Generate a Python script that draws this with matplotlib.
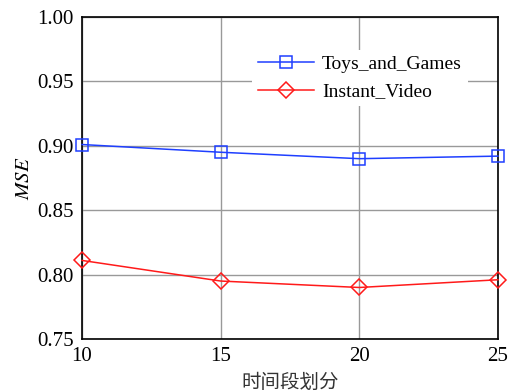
import matplotlib.pyplot as plt

# === Data ===
periods = [10, 15, 20, 25]
toys_mse = [0.901, 0.895, 0.890, 0.892]
video_mse = [0.811, 0.795, 0.790, 0.796]

plt.rcParams['font.family'] = ['Liberation Serif', 'Noto Sans CJK SC']
plt.rcParams['mathtext.fontset'] = 'stix'

fig = plt.figure(figsize=(5.11, 3.92), dpi=100)
ax = fig.add_axes([0.1605, 0.1352, 0.814, 0.8214])

ax.plot(periods, toys_mse, color='#1f3fff', marker='s', markersize=9,
        markerfacecolor='none', markeredgewidth=1.1, linewidth=1.1,
        label='Toys_and_Games', clip_on=False, zorder=3)
ax.plot(periods, video_mse, color='#ff1a1a', marker='D', markersize=8,
        markerfacecolor='none', markeredgewidth=1.1, linewidth=1.1,
        label='Instant_Video', clip_on=False, zorder=3)

ax.set_xlim(10, 25)
ax.set_ylim(0.75, 1.00)
ax.set_xticks(periods)
ax.set_yticks([0.75, 0.80, 0.85, 0.90, 0.95, 1.00])
ax.set_yticklabels(['0.75', '0.80', '0.85', '0.90', '0.95', '1.00'])
ax.tick_params(axis='both', direction='in', length=0, labelsize=15)
ax.tick_params(axis='y', pad=6)
ax.tick_params(axis='x', pad=6)
ax.grid(True, color='#999999', linewidth=1.0)
for s in ax.spines.values():
    s.set_linewidth(1.2)

ax.set_ylabel('$MSE$', fontsize=15, labelpad=2)
ax.set_xlabel('时间段划分', fontsize=14, labelpad=4,
              family=['Noto Sans CJK SC', 'DejaVu Sans'], color='#333333')

leg = ax.legend(loc='upper right', bbox_to_anchor=(0.951, 0.929), fontsize=14,
                frameon=True, framealpha=1, edgecolor='none', fancybox=False,
                handlelength=2.9, borderpad=0.3, labelspacing=0.5,
                handletextpad=0.4)

fig.savefig('out.png', dpi=100)
